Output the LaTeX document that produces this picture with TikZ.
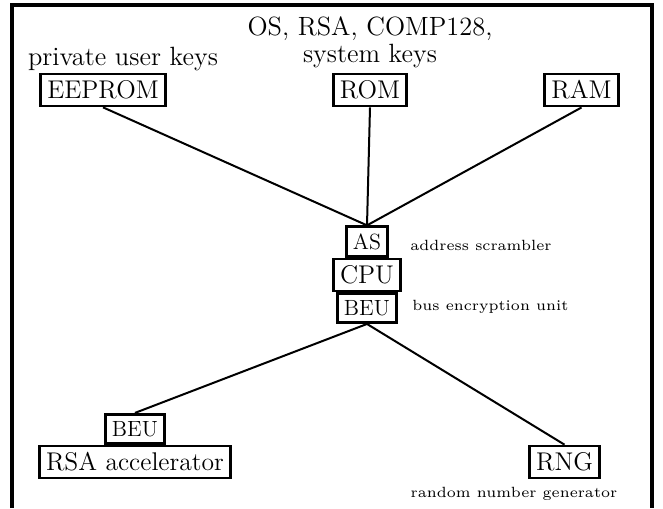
\documentclass[tikz,border=0pt]{standalone}
\usepackage{fontspec}
\newfontfamily\tinyrm{lmroman6-regular}[Extension=.otf]
\begin{document}
\begin{tikzpicture}[x=0.5pt,y=-0.5pt,
  bigbox/.style={draw,line width=1.4pt,font=\fontsize{12.8}{15}\selectfont},
  midbox/.style={draw,line width=1.4pt,font=\fontsize{11}{13}\selectfont},
  note/.style={font=\fontsize{13.2}{13.5}\selectfont,align=center,inner sep=0pt},
  smallnote/.style={font=\tinyrm\fontsize{7.4}{9}\selectfont,inner sep=0pt},
  link/.style={line width=1pt},
  frameline/.style={line width=2pt}]
\useasboundingbox (0,0) rectangle (663,508);
\draw[frameline] (12,508) -- (12,5) -- (652,5) -- (652,508);
% nodes
\node[bigbox] (eeprom) at (103,90) {EEPROM};
\node[bigbox] (rom) at (370,90) {ROM};
\node[bigbox] (ram) at (581.5,90) {RAM};
\node[bigbox] (cpu) at (367,275) {CPU};
\node[midbox,anchor=south] (as) at (cpu.north) {AS};
\node[midbox,anchor=north] (beu) at (cpu.south) {BEU};
\node[bigbox] (rsa) at (135,462) {RSA accelerator};
\node[midbox,anchor=south] (beu2) at (rsa.north) {BEU};
\node[bigbox] (rng) at (564.5,462) {RNG};
% labels
\node[note,anchor=base] (pukeys) at (123,66) {private user keys};
\node[note,anchor=base] (romkeys) at (370,63) {OS, RSA, COMP128,\\system keys};
\node[smallnote,anchor=west] (aslabel) at (410,245) {address scrambler};
\node[smallnote,anchor=west] (beulabel) at (412,307) {bus encryption unit};
\node[smallnote,anchor=base] (rnglabel) at (514,497) {random number generator};
% connectors
\draw[link] (eeprom.south) -- (as.north);
\draw[link] (rom.south) -- (as.north);
\draw[link] (ram.south) -- (as.north);
\draw[link] (beu.south) -- (beu2.north);
\draw[link] (beu.south) -- (rng.north);
\end{tikzpicture}
\end{document}
